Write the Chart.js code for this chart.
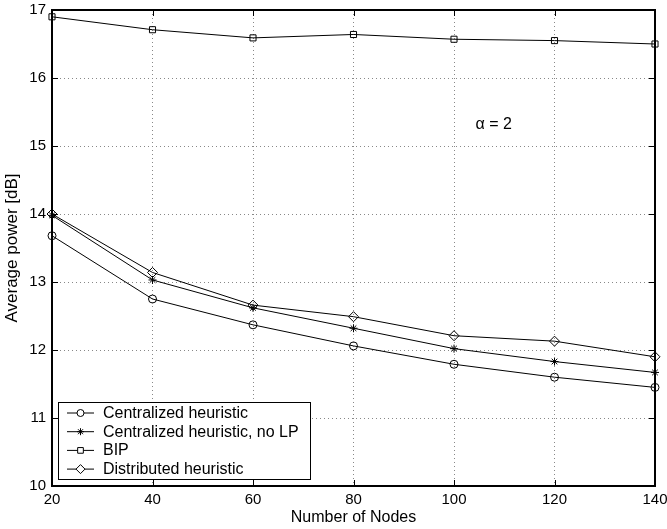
<!DOCTYPE html>
<html>
<head>
<meta charset="utf-8">
<script src="https://cdn.jsdelivr.net/npm/chart.js@4.4.1/dist/chart.umd.min.js"></script>
<style>
html,body{margin:0;padding:0;background:#fff;}
#wrap{width:667px;height:529px;position:relative;}
</style>
</head>
<body>
<div id="wrap"><canvas id="c" width="667" height="529"></canvas></div>
<script>
// ---- data ----
const nodes = [20, 40, 60, 80, 100, 120, 140];
const centralized = [13.68, 12.75, 12.37, 12.06, 11.79, 11.60, 11.45];
const centralizedNoLP = [13.98, 13.03, 12.62, 12.32, 12.02, 11.83, 11.67];
const bip = [16.90, 16.71, 16.59, 16.64, 16.57, 16.55, 16.50];
const distributed = [14.00, 13.14, 12.66, 12.49, 12.21, 12.13, 11.90];
const xTicks = [20, 40, 60, 80, 100, 120, 140];
const yTicks = [10, 11, 12, 13, 14, 15, 16, 17];
const seriesLabels = ['Centralized heuristic', 'Centralized heuristic, no LP', 'BIP', 'Distributed heuristic'];
const annotation = {x: 104.3, y: 15.31, text: '\u03B1 = 2'};

const FONT = "'Liberation Sans', Arial, Helvetica, sans-serif";

function pts(arr){ return nodes.map((n,i)=>({x:n, y:arr[i]})); }

const styles = [
  {pointStyle:'circle', radius:4, legendRadius:3.5},
  {pointStyle:'star', radius:4, legendRadius:3.5},
  {pointStyle:'rect', radius:4.3, legendRadius:4},
  {pointStyle:'rectRot', radius:5, legendRadius:4.5}
];
const values = [centralized, centralizedNoLP, bip, distributed];

const datasets = values.map((v,i)=>({
  label: seriesLabels[i],
  data: pts(v),
  borderColor:'#000',
  borderWidth:1,
  backgroundColor:'rgba(0,0,0,0)',
  pointStyle: styles[i].pointStyle,
  pointRadius: styles[i].radius,
  pointBorderColor:'#000',
  pointBorderWidth:1,
  pointBackgroundColor:'rgba(0,0,0,0)',
  tension:0,
  clip:false
}));

const framePlugin = {
  id:'frame',
  afterDraw(chart){
    const ctx = chart.ctx;
    const a = chart.chartArea;
    const xs = chart.scales.x, ys = chart.scales.y;
    ctx.save();
    // inward ticks
    ctx.strokeStyle = '#000';
    ctx.lineWidth = 1;
    const tl = 6;
    xTicks.forEach(t=>{
      const px = Math.round(xs.getPixelForValue(t))+0.5;
      ctx.beginPath();
      ctx.moveTo(px, a.bottom); ctx.lineTo(px, a.bottom - tl);
      ctx.moveTo(px, a.top); ctx.lineTo(px, a.top + tl);
      ctx.stroke();
    });
    yTicks.forEach(t=>{
      const py = Math.round(ys.getPixelForValue(t))+0.5;
      ctx.beginPath();
      ctx.moveTo(a.left, py); ctx.lineTo(a.left + tl, py);
      ctx.moveTo(a.right, py); ctx.lineTo(a.right - tl, py);
      ctx.stroke();
    });
    // frame
    ctx.lineWidth = 2;
    ctx.strokeRect(a.left, a.top, a.right - a.left, a.bottom - a.top);

    // annotation
    ctx.fillStyle = '#000';
    ctx.font = '16px ' + FONT;
    ctx.textAlign = 'left';
    ctx.textBaseline = 'middle';
    ctx.fillText(annotation.text, xs.getPixelForValue(annotation.x), ys.getPixelForValue(annotation.y));

    // legend
    const lx = a.left + 6, ly = a.bottom - 84, lw = 252, lh = 77;
    ctx.fillStyle = '#fff';
    ctx.fillRect(lx, ly, lw, lh);
    ctx.lineWidth = 1;
    ctx.strokeStyle = '#000';
    ctx.strokeRect(lx+0.5, ly+0.5, lw, lh);
    chart.data.datasets.forEach((ds,i)=>{
      const cy = ly + 11 + i*18.7;
      ctx.beginPath();
      ctx.lineWidth = 1;
      ctx.strokeStyle = '#000';
      ctx.moveTo(lx + 9, cy); ctx.lineTo(lx + 36, cy);
      ctx.stroke();
      ctx.fillStyle = '#fff';
      Chart.helpers.drawPoint(ctx, {pointStyle: ds.pointStyle, radius: styles[i].legendRadius, borderWidth:1, rotation:0}, lx + 22.5, cy);
      ctx.fillStyle = '#000';
      ctx.font = '16px ' + FONT;
      ctx.textAlign = 'left';
      ctx.textBaseline = 'middle';
      ctx.fillText(ds.label, lx + 45, cy + 0.5);
    });
    ctx.restore();
  }
};

new Chart(document.getElementById('c'), {
  type:'line',
  data:{datasets},
  options:{
    responsive:false,
    animation:false,
    devicePixelRatio:1,
    layout:{padding:{top:10, right:12, left:0, bottom:0}},
    plugins:{legend:{display:false}, tooltip:{enabled:false}},
    scales:{
      x:{
        type:'linear', min:20, max:140,
        afterBuildTicks(s){ s.ticks = xTicks.map(v=>({value:v})); },
        afterFit(s){ s.height = 43; s.paddingLeft = 0; s.paddingRight = 0; },
        grid:{color:'#888', lineWidth:1, drawTicks:false},
        border:{display:false, dash:[1,3]},
        ticks:{color:'#000', font:{family:FONT, size:15}, padding:5, maxRotation:0},
        title:{display:true, text:'Number of Nodes', color:'#000', font:{family:FONT, size:16}, padding:{top:0,bottom:2}}
      },
      y:{
        type:'linear', min:10, max:17,
        afterBuildTicks(s){ s.ticks = yTicks.map(v=>({value:v})); },
        afterFit(s){ s.width = 52; s.paddingTop = 0; s.paddingBottom = 0; },
        grid:{color:'#888', lineWidth:1, drawTicks:false},
        border:{display:false, dash:[1,3]},
        ticks:{color:'#000', font:{family:FONT, size:15}, padding:6},
        title:{display:true, text:'Average power [dB]', color:'#000', font:{family:FONT, size:17}, padding:{top:2,bottom:0}}
      }
    }
  },
  plugins:[framePlugin]
});
</script>
</body>
</html>
